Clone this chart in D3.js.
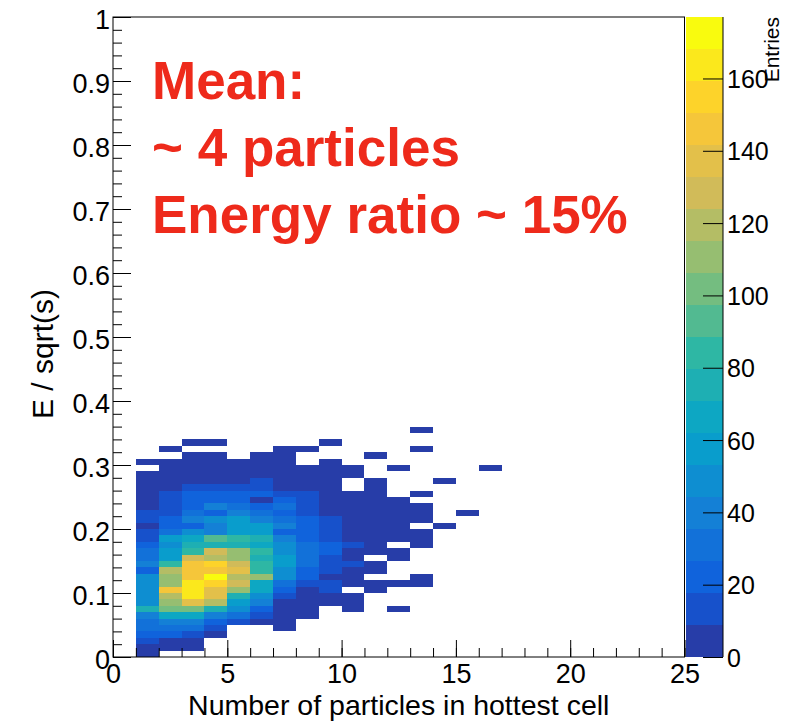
<!DOCTYPE html>
<html>
<head>
<meta charset="utf-8">
<script src="https://cdn.jsdelivr.net/npm/d3@7"></script>
<style>
  html, body { margin: 0; padding: 0; background: #fff; }
  svg { display: block; font-family: "Liberation Sans", Arial, Helvetica, sans-serif; }
</style>
</head>
<body>
<svg id="chart" width="801" height="725"></svg>
<script>
// Lower edge of each particle-count bin (bins are one particle wide)
const xBinStart = [1, 2, 3, 4, 5, 6, 7, 8, 9, 10, 11, 12, 13, 14, 15, 16];

// Entries per E/sqrt(s) bin (bins of 0.01 starting at 0), one array per particle-count bin
const n1  = [4, 5, 13, 22, 31, 31, 40, 75, 49, 49, 49, 49, 49, 22, 40, 31, 31, 22, 13, 13, 4, 13, 13, 4, 5, 3, 4, 6, 3, 0, 2];
const n2  = [0, 5, 6, 22, 31, 40, 66, 102, 111, 119, 146, 111, 111, 119, 84, 58, 58, 49, 58, 31, 22, 22, 13, 13, 13, 13, 6, 5, 4, 3, 4, 0, 2];
const n3  = [0, 3, 6, 13, 31, 40, 66, 102, 137, 164, 164, 164, 146, 146, 146, 128, 84, 75, 66, 49, 22, 40, 31, 22, 22, 22, 13, 6, 5, 4, 3, 2, 0, 2];
const n4  = [0, 0, 0, 4, 13, 22, 40, 75, 119, 137, 137, 155, 177, 146, 155, 119, 128, 75, 93, 40, 40, 49, 22, 40, 22, 22, 13, 7, 5, 4, 3, 3, 0, 2];
const n5  = [0, 0, 0, 0, 0, 13, 31, 49, 58, 75, 111, 128, 119, 137, 128, 111, 111, 75, 84, 58, 58, 58, 40, 31, 22, 22, 13, 6, 5, 4, 2];
const n6  = [0, 0, 0, 0, 0, 4, 13, 22, 40, 49, 66, 66, 111, 84, 84, 75, 84, 66, 75, 58, 58, 40, 31, 22, 7, 22, 13, 13, 5, 4, 3, 2];
const n7  = [0, 0, 0, 0, 2, 4, 5, 6, 8, 13, 22, 31, 49, 49, 58, 58, 49, 49, 40, 22, 40, 31, 22, 31, 22, 13, 7, 6, 5, 4, 3, 2, 1];
const n8  = [0, 0, 0, 0, 0, 0, 2, 4, 6, 7, 8, 13, 22, 22, 31, 31, 31, 31, 22, 22, 22, 22, 13, 13, 13, 13, 7, 5, 4, 2, 0, 0, 1];
const n9  = [0, 0, 0, 0, 0, 0, 0, 0, 2, 5, 13, 13, 7, 13, 13, 13, 22, 22, 13, 13, 13, 13, 7, 6, 5, 5, 4, 3, 3, 2, 2, 0, 0, 1];
const n10 = [0, 0, 0, 0, 0, 0, 0, 1, 3, 4, 0, 4, 5, 6, 13, 7, 6, 13, 7, 6, 5, 5, 4, 3, 3, 2, 0, 0, 1, 1];
const n11 = [0, 0, 0, 0, 0, 0, 0, 0, 0, 0, 2, 3, 0, 3, 4, 0, 4, 5, 5, 4, 4, 3, 3, 2, 2, 2, 1, 1, 0, 0, 0, 1];
const n12 = [0, 0, 0, 0, 0, 0, 0, 1, 0, 0, 0, 2, 0, 0, 0, 2, 3, 0, 3, 3, 2, 2, 2, 1, 1, 0, 0, 0, 0, 1];
const n13 = [0, 0, 0, 0, 0, 0, 0, 0, 0, 0, 0, 1, 2, 0, 0, 0, 0, 2, 2, 1, 0, 1, 1, 1, 0, 1, 0, 0, 0, 0, 0, 0, 1, 0, 0, 1];
const n14 = [0, 0, 0, 0, 0, 0, 0, 0, 0, 0, 0, 0, 0, 0, 0, 0, 0, 0, 0, 0, 1, 0, 0, 0, 0, 0, 0, 1];
const n15 = [0, 0, 0, 0, 0, 0, 0, 0, 0, 0, 0, 0, 0, 0, 0, 0, 0, 0, 0, 0, 0, 0, 1];
const n16 = [0, 0, 0, 0, 0, 0, 0, 0, 0, 0, 0, 0, 0, 0, 0, 0, 0, 0, 0, 0, 0, 0, 0, 0, 0, 0, 0, 0, 0, 1];

const binWidthX = 1;
const binWidthY = 0.01;

// Axis ticks and labels
const xMajorTicks = [0, 5, 10, 15, 20, 25];
const yMajorTicks = [0, 0.1, 0.2, 0.3, 0.4, 0.5, 0.6, 0.7, 0.8, 0.9, 1];
const zTicks = [0, 20, 40, 60, 80, 100, 120, 140, 160];
const xTitle = "Number of particles in hottest cell";
const yTitle = "E / sqrt(s)";
const zTitle = "Entries";
const notes = ["Mean:", "~ 4 particles", "Energy ratio ~ 15%"];

// Bird colour palette: stops and RGB components
const birdStops = [0.0000, 0.1250, 0.2500, 0.3750, 0.5000, 0.6250, 0.7500, 0.8750, 1.0000];
const birdRed   = [0.2082, 0.0592, 0.0780, 0.0232, 0.1802, 0.5301, 0.8186, 0.9956, 0.9764];
const birdGreen = [0.1664, 0.3599, 0.5041, 0.6419, 0.7178, 0.7492, 0.7328, 0.7862, 0.9832];
const birdBlue  = [0.5293, 0.8684, 0.8385, 0.7914, 0.6425, 0.4662, 0.3499, 0.1968, 0.0539];
const nContours = 20;

const svg = d3.select("#chart");

const plot = { left: 113, right: 684.5, top: 17, bottom: 657 };
const x = d3.scaleLinear().domain([0, 25]).range([plot.left, plot.right]);
const y = d3.scaleLinear().domain([0, 1]).range([plot.bottom, plot.top]);

const columns = [n1, n2, n3, n4, n5, n6, n7, n8, n9, n10, n11, n12, n13, n14, n15, n16];
const cells = [];
columns.forEach((col, i) => {
  col.forEach((v, j) => {
    if (v > 0) cells.push({ x0: xBinStart[i], y0: j * binWidthY, v });
  });
});

const zMax = d3.max(cells, d => d.v);
const z = d3.scaleLinear().domain([0, zMax]).range([plot.bottom, plot.top]);

const bird = d3.scaleLinear()
  .domain(birdStops)
  .range(birdStops.map((s, i) => d3.rgb(birdRed[i] * 255, birdGreen[i] * 255, birdBlue[i] * 255)))
  .interpolate(d3.interpolateRgb);

function contourOf(v) {
  return Math.min(nContours - 1, Math.floor(v / zMax * nContours));
}
function contourColor(c) {
  const idx = Math.floor((c + 0.99) * 255 / nContours);
  return bird(Math.min(1, idx / 254));
}

// Histogram cells
svg.append("g")
  .attr("shape-rendering", "crispEdges")
  .selectAll("rect")
  .data(cells)
  .join("rect")
  .attr("x", d => x(d.x0))
  .attr("width", d => x(d.x0 + binWidthX) - x(d.x0))
  .attr("y", d => y(d.y0 + binWidthY))
  .attr("height", d => y(d.y0) - y(d.y0 + binWidthY))
  .attr("fill", d => contourColor(contourOf(d.v)));

// Frame
svg.append("rect")
  .attr("x", plot.left).attr("y", plot.top)
  .attr("width", plot.right - plot.left).attr("height", plot.bottom - plot.top)
  .attr("fill", "none").attr("stroke", "#000").attr("stroke-width", 1);

function styleAxis(g, fontSize) {
  g.select(".domain").remove();
  g.selectAll(".tick line").attr("stroke", "#000").attr("stroke-width", 1);
  g.selectAll(".tick text").attr("fill", "#000").attr("font-size", fontSize)
    .attr("font-family", '"Liberation Sans", Arial, Helvetica, sans-serif');
}

// X axis
svg.append("g").attr("transform", `translate(0,${plot.bottom})`)
  .call(d3.axisBottom(x).tickValues(d3.range(0, 26)).tickSize(-9).tickSizeOuter(0).tickFormat(""))
  .call(g => styleAxis(g, 27));
svg.append("g").attr("transform", `translate(0,${plot.bottom})`)
  .call(d3.axisBottom(x).tickValues(xMajorTicks).tickSize(-17).tickSizeOuter(0).tickPadding(7).tickFormat(d3.format("~g")))
  .call(g => styleAxis(g, 27));

// Y axis
svg.append("g").attr("transform", `translate(${plot.left},0)`)
  .call(d3.axisLeft(y).tickValues(d3.range(0, 51).map(i => i * 0.02)).tickSize(-9).tickSizeOuter(0).tickFormat(""))
  .call(g => styleAxis(g, 27));
svg.append("g").attr("transform", `translate(${plot.left},0)`)
  .call(d3.axisLeft(y).tickValues(yMajorTicks).tickSize(-18).tickSizeOuter(0).tickPadding(3).tickFormat(d3.format("~g")))
  .call(g => styleAxis(g, 27))
  .call(g => g.selectAll(".tick text").attr("dy", "0.42em"));

// Colour scale bar
const bar = { left: 686, right: 723 };
svg.append("g")
  .attr("shape-rendering", "crispEdges")
  .selectAll("rect")
  .data(d3.range(nContours))
  .join("rect")
  .attr("x", bar.left)
  .attr("width", bar.right - bar.left)
  .attr("y", c => z((c + 1) * zMax / nContours))
  .attr("height", c => z(c * zMax / nContours) - z((c + 1) * zMax / nContours))
  .attr("fill", c => contourColor(c));

svg.append("line")
  .attr("x1", bar.right).attr("x2", bar.right)
  .attr("y1", plot.top).attr("y2", plot.bottom)
  .attr("stroke", "#000").attr("stroke-width", 1);

svg.append("g").attr("transform", `translate(${bar.right},0)`)
  .call(d3.axisRight(z).tickValues(zTicks).tickSize(-20).tickSizeOuter(0).tickPadding(4).tickFormat(d3.format("d")))
  .call(g => styleAxis(g, 25))
  .call(g => g.selectAll(".tick text").attr("dy", "0.36em"));

// Titles
svg.append("text")
  .attr("x", (plot.left + plot.right) / 2).attr("y", 715)
  .attr("text-anchor", "middle").attr("font-size", 28.5).attr("fill", "#000")
  .text(xTitle);

svg.append("text")
  .attr("transform", `translate(53,354) rotate(-90)`)
  .attr("text-anchor", "middle").attr("font-size", 30).attr("fill", "#000")
  .text(yTitle);

svg.append("text")
  .attr("transform", `translate(779,${plot.top}) rotate(-90)`)
  .attr("text-anchor", "end").attr("font-size", 21).attr("fill", "#000")
  .text(zTitle);

// Annotation
svg.append("g")
  .selectAll("text")
  .data(notes)
  .join("text")
  .attr("x", 152)
  .attr("y", (d, i) => 99 + i * 67)
  .attr("font-size", 53)
  .attr("font-weight", "bold")
  .attr("fill", "#EE2A1B")
  .text(d => d);
</script>
</body>
</html>
